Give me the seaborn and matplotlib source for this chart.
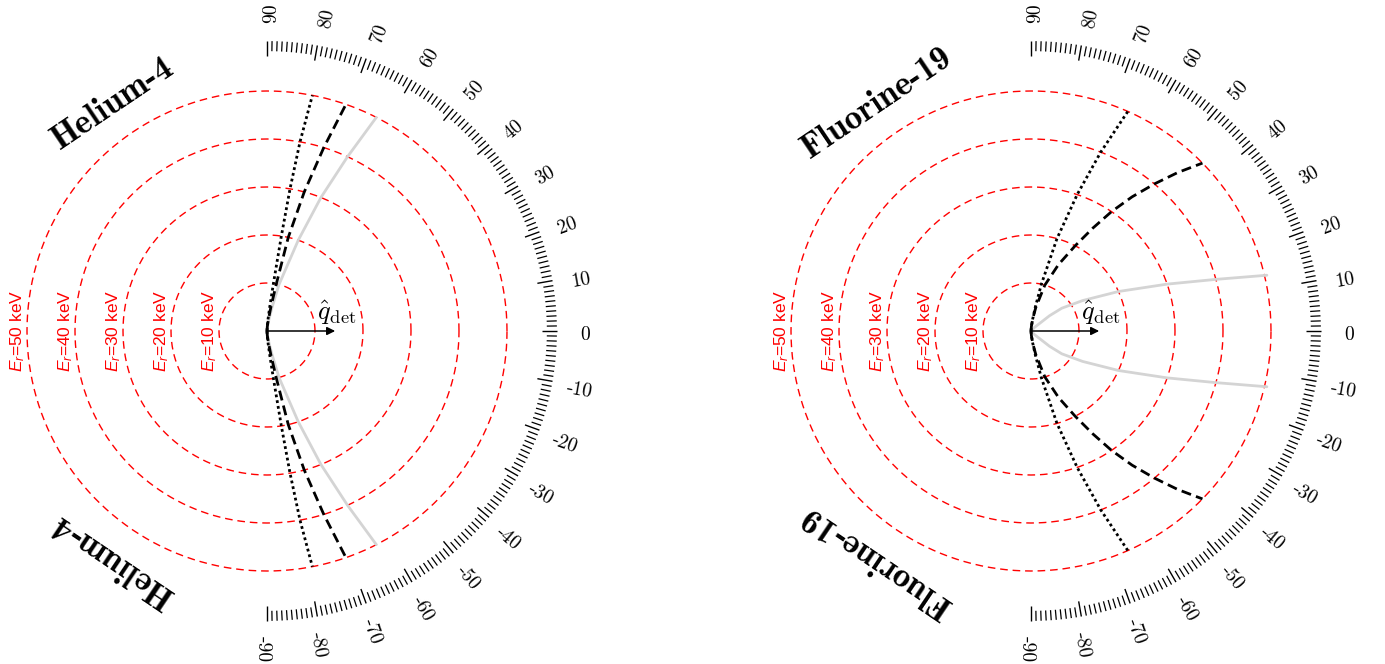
import numpy as np
import pandas as pd
import matplotlib
matplotlib.use("Agg")
import matplotlib.pyplot as plt
import seaborn as sns

# ---------------- data ----------------
energy_levels = [10, 20, 30, 40, 50]            # keV contour circles
tick_labels = list(range(-90, 91, 10))          # angle labels (deg)
panel_titles = ["Helium-4", "Fluorine-19"]

# recoil direction curves: energy (keV) vs. angle to q_det (deg), upper branch
he_dotted_E = [0, 1, 2.5, 5, 10, 20, 30, 40, 50]
he_dotted_deg = [90, 87, 85.0, 83.5, 82.3, 81.4, 80.8, 80.1, 79.1]
he_dashed_E = [0, 1, 2.5, 5, 10, 20, 30, 40, 50]
he_dashed_deg = [90, 86, 83.0, 80.8, 78.8, 77.2, 75.0, 72.8, 70.8]
he_gray_E = [0, 1, 2.5, 5, 10, 20, 30, 40, 50]
he_gray_deg = [90, 84, 80.5, 78.0, 75.5, 71.0, 68.0, 65.2, 62.9]

f_dotted_E = [0, 1, 2.5, 5, 10, 20, 30, 40, 50]
f_dotted_deg = [90, 85, 82.0, 79.8, 77.5, 74.3, 71.3, 68.7, 66.2]
f_dashed_E = [0, 1, 2.5, 5, 10, 15, 20, 25, 30, 35, 40, 45, 50]
f_dashed_deg = [90, 85, 82.0, 78.5, 73.2, 67.5, 62.6, 59.0, 56.0, 53.0, 50.0, 47.2, 44.4]
f_gray_E = [0, 1, 2, 5, 8, 12.5, 20, 30, 40, 50.5]
f_gray_deg = [60, 46, 42, 39.5, 36.5, 30.5, 24.3, 19.0, 15.6, 13.3]

# --------------- style ----------------
sns.set_style("white")
plt.rcParams["font.family"] = ["DejaVu Sans"]
plt.rcParams["text.color"] = "black"
plt.rcParams["mathtext.fontset"] = "custom"
plt.rcParams["mathtext.rm"] = "Liberation Sans"
plt.rcParams["mathtext.it"] = "Liberation Sans:italic"

W, H = 1385, 664
fig = plt.figure(figsize=(W / 100, H / 100), dpi=100)

PX_PER_KEV = 4.8
RMAX = 70.0
R_PX = RMAX * PX_PER_KEV

centers = [(267, H - 331), (1031, H - 331)]

curve_sets = [
    [(he_gray_E, he_gray_deg, "gray"), (he_dashed_E, he_dashed_deg, "dashed"),
     (he_dotted_E, he_dotted_deg, "dotted")],
    [(f_gray_E, f_gray_deg, "gray"), (f_dashed_E, f_dashed_deg, "dashed"),
     (f_dotted_E, f_dotted_deg, "dotted")],
]

styles = {
    "gray": dict(color="#d4d4d4", lw=2.0, linestyle="-"),
    "dashed": dict(color="black", lw=2.0, linestyle=(0, (3.6, 1.9))),
    "dotted": dict(color="black", lw=2.0, linestyle=(0, (1.0, 1.1))),
}

for (cx, cy), title, curves in zip(centers, panel_titles, curve_sets):
    ax = fig.add_axes([(cx - R_PX) / W, (cy - R_PX) / H, 2 * R_PX / W, 2 * R_PX / H],
                      projection="polar")
    ax.set_axis_off()

    # energy circles + labels
    th_full = np.linspace(0, 2 * np.pi, 721)
    for E in energy_levels:
        ax.plot(th_full, np.full_like(th_full, E), color="red", lw=1.0,
                linestyle=(0, (5.5, 3.5)), zorder=1)
        ax.text(np.pi, E + 2.0, rf"$E_r$={E} keV", rotation=90, ha="center",
                va="center", color="red", fontsize=12.5, family="Liberation Sans")

    # recoil curves (upper and mirrored lower branch)
    for E, deg, key in curves:
        for sign in (1, -1):
            df = pd.DataFrame({"theta": sign * np.deg2rad(np.array(deg, float)),
                               "E": np.array(E, float)})
            sns.lineplot(data=df, x="theta", y="E", ax=ax, sort=False,
                         estimator=None, zorder=3, **styles[key])

    # angular scale on the right half
    deg_all = np.arange(-90, 91)
    major = deg_all % 10 == 0
    ax.vlines(np.deg2rad(deg_all[~major]), 58.3, 60.4, colors="black", lw=0.9)
    ax.vlines(np.deg2rad(deg_all[major]), 57.2, 60.4, colors="black", lw=1.0)
    for d in tick_labels:
        ax.text(np.deg2rad(d - 0.8), 66.3, str(d), rotation=d, ha="center",
                va="center", rotation_mode="anchor", fontsize=14, family="cmr10",
                color="black")

    # detector direction arrow
    ax.annotate("", xy=(0, 14.2), xytext=(0, 0),
                arrowprops=dict(arrowstyle="-|>", color="black", lw=1.1,
                                shrinkA=0, shrinkB=0, mutation_scale=12))
    ax.text(np.deg2rad(15.0), 15.0, r"$\hat{q}_{\rm det}$", fontsize=19,
            ha="center", va="center", math_fontfamily="cm", color="black")

    # titles
    ax.text(np.deg2rad(124), 57.2, title, rotation=34, ha="center", va="center",
            rotation_mode="anchor", fontsize=25, family="cmb10", color="black")
    ax.text(np.deg2rad(236), 57.6, title, rotation=146, ha="center", va="center",
            rotation_mode="anchor", fontsize=25, family="cmb10", color="black")

    ax.set_ylim(0, RMAX)
    ax.set_xlabel("")
    ax.set_ylabel("")
    leg = ax.get_legend()
    if leg:
        leg.remove()

fig.savefig("out.png", dpi=100)
